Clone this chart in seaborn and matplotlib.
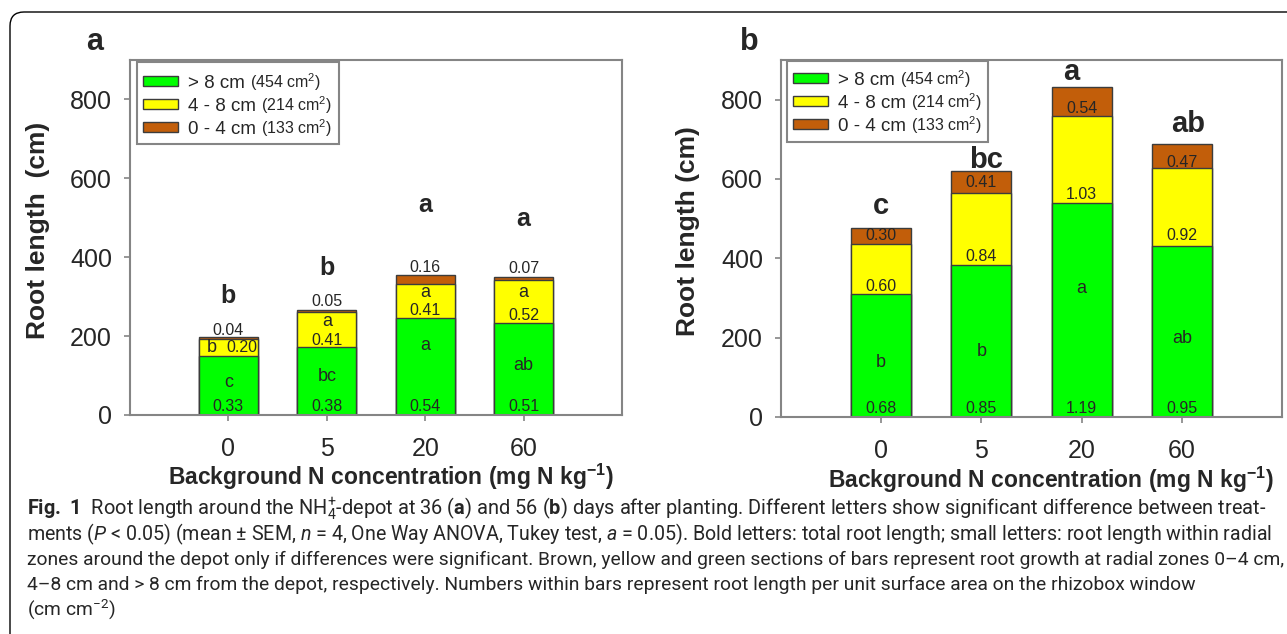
import pandas as pd
import matplotlib
matplotlib.use("Agg")
import matplotlib.pyplot as plt
import matplotlib.patches as mpatches
from matplotlib.transforms import IdentityTransform
import seaborn as sns

sns.set_style("ticks")
plt.rcParams["font.family"] = ["Liberation Sans", "DejaVu Sans"]
plt.rcParams["mathtext.fontset"] = "custom"
plt.rcParams["mathtext.rm"] = "Roboto"
plt.rcParams["mathtext.it"] = "Roboto:italic"
plt.rcParams["mathtext.bf"] = "Roboto:bold"

conc = ["0", "5", "20", "60"]
zones = ["> 8 cm", "4 - 8 cm", "0 - 4 cm"]
zone_areas = ["454", "214", "133"]

# panel a, 36 days after planting: root length (cm) per radial zone
a_green = [150, 172, 245, 232]
a_yellow = [43, 88, 88, 109]
a_brown = [5, 7, 21, 9]
a_dens_green = ["0.33", "0.38", "0.54", "0.51"]
a_dens_yellow = ["0.20", "0.41", "0.41", "0.52"]
a_dens_brown = ["0.04", "0.05", "0.16", "0.07"]
a_let_green = ["c", "bc", "a", "ab"]
a_let_yellow = ["b", "a", "a", "a"]
a_let_total = ["b", "b", "a", "a"]

# panel b, 56 days after planting
b_green = [310, 384, 540, 430]
b_yellow = [127, 180, 220, 197]
b_brown = [40, 55, 72, 62]
b_dens_green = ["0.68", "0.85", "1.19", "0.95"]
b_dens_yellow = ["0.60", "0.84", "1.03", "0.92"]
b_dens_brown = ["0.30", "0.41", "0.54", "0.47"]
b_let_green = ["b", "b", "a", "ab"]
b_let_total = ["c", "bc", "a", "ab"]

GREEN, YELLOW, BROWN = "#00ff00", "#ffff00", "#c25e0a"
EDGE = "#3c3c3c"
SPINE = "#858585"
LEG_FS = 13.5


def stacked_bars(ax, green, yellow, brown):
    df = pd.DataFrame({"conc": conc, "g": green, "y": yellow, "b": brown})
    df["gy"] = df["g"] + df["y"]
    df["tot"] = df["gy"] + df["b"]
    for col, c in [("tot", BROWN), ("gy", YELLOW), ("g", GREEN)]:
        sns.barplot(data=df, x="conc", y=col, color=c, saturation=1, width=0.6,
                    edgecolor=EDGE, linewidth=1, errorbar=None, ax=ax)
    ax.set_xlim(-1, 4)
    ax.set_ylim(0, 900)
    ax.set_yticks([0, 200, 400, 600, 800])
    for s in ax.spines.values():
        s.set_visible(True)
        s.set_color(SPINE)
        s.set_linewidth(1.5)
    ax.tick_params(axis="both", direction="out", length=4, width=1.2,
                   color=SPINE, labelsize=18)
    ax.tick_params(axis="y", pad=9)
    ax.tick_params(axis="x", pad=12)


def zone_legend(ax, anchor, frame):
    handles = [mpatches.Patch(facecolor=c, edgecolor=EDGE, linewidth=1)
               for c in (GREEN, YELLOW, BROWN)]
    leg = ax.legend(handles, zones, loc="upper left", bbox_to_anchor=anchor,
                    frameon=False, fontsize=LEG_FS, borderpad=0, borderaxespad=0,
                    handlelength=1.87, handleheight=0.45, handletextpad=0.53,
                    labelspacing=0.32)
    x0, y0, x1, y1 = frame
    ax.add_patch(mpatches.Rectangle((x0, y0), x1 - x0, y1 - y0, transform=ax.transAxes,
                                    facecolor="white", edgecolor=SPINE, linewidth=1.5,
                                    zorder=4, clip_on=False))
    return leg


fig = plt.figure(figsize=(12.87, 6.34), dpi=100)
ax_a = fig.add_axes([130 / 1287, 1 - 415 / 634, 492 / 1287, 355 / 634])
ax_b = fig.add_axes([781 / 1287, 1 - 417 / 634, 501 / 1287, 357 / 634])

# ---- panel a
stacked_bars(ax_a, a_green, a_yellow, a_brown)
fs_num, fs_let = 11.5, 13
for i in range(4):
    ax_a.text(i, 22, a_dens_green[i], ha="center", va="center", fontsize=fs_num)
    ax_a.text(i, [82, 97, 177, 125][i], a_let_green[i], ha="center", va="center", fontsize=fs_let)
    if i == 0:
        ax_a.text(i - 0.17, 170, a_let_yellow[i], ha="center", va="center", fontsize=fs_let)
        ax_a.text(i + 0.14, 170, a_dens_yellow[i], ha="center", va="center", fontsize=fs_num)
    else:
        ax_a.text(i, [0, 236, 310, 310][i], a_let_yellow[i], ha="center", va="center", fontsize=fs_let)
        ax_a.text(i, [0, 188, 266, 251][i], a_dens_yellow[i], ha="center", va="center", fontsize=fs_num)
    ax_a.text(i, [213, 287, 375, 371][i], a_dens_brown[i], ha="center", va="center", fontsize=fs_num)
    ax_a.text(i, [301, 373, 533, 496][i], a_let_total[i], ha="center", va="center",
              fontsize=18, fontweight="bold")
ax_a.set_xlabel(r"Background N concentration (mg N kg$^{\mathregular{-1}}$)",
                fontsize=16.5, fontweight="bold")
ax_a.xaxis.set_label_coords(0.53, -0.133)
ax_a.set_ylabel("Root length  (cm)", fontsize=19, fontweight="bold")
ax_a.yaxis.set_label_coords(-0.163, 0.52)
leg_a = zone_legend(ax_a, (0.026, 0.958), (0.0142, 0.7634, 0.4248, 0.9944))

# ---- panel b
stacked_bars(ax_b, b_green, b_yellow, b_brown)
for i in range(4):
    ax_b.text(i, 22, b_dens_green[i], ha="center", va="center", fontsize=fs_num)
    ax_b.text(i, [137, 164, 324, 198][i], b_let_green[i], ha="center", va="center", fontsize=fs_let)
    ax_b.text(i, [330, 405, 561, 458][i], b_dens_yellow[i], ha="center", va="center", fontsize=fs_num)
    ax_b.text(i, [458, 590, 778, 641][i], b_dens_brown[i], ha="center", va="center", fontsize=fs_num)
    ax_b.text(i + [0, 0.05, -0.1, 0.06][i], [531, 648, 869, 739][i], b_let_total[i],
              ha="center", va="center", fontsize=21, fontweight="bold")
ax_b.set_xlabel(r"Background N concentration (mg N kg$^{\mathregular{-1}}$)",
                fontsize=16.5, fontweight="bold")
ax_b.xaxis.set_label_coords(0.539, -0.135)
ax_b.set_ylabel("Root length (cm)", fontsize=19, fontweight="bold")
ax_b.yaxis.set_label_coords(-0.162, 0.52)
leg_b = zone_legend(ax_b, (0.024, 0.966), (0.012, 0.770, 0.413, 0.997))

fig.text(95 / 1287, 1 - 42 / 634, "a", fontsize=22, fontweight="bold", ha="center", va="center")
fig.text(749 / 1287, 1 - 42 / 634, "b", fontsize=22, fontweight="bold", ha="center", va="center")

# ---- caption
caption = [
    r"$\mathbf{Fig.\ 1}$  Root length around the NH$_4^{+}$-depot at 36 ($\mathbf{a}$) and 56 ($\mathbf{b}$) "
    r"days after planting. Different letters show significant difference between treat-",
    r"ments ($P$ < 0.05) (mean ± SEM, $n$ = 4, One Way ANOVA, Tukey test, $a$ = 0.05). Bold letters: "
    r"total root length; small letters: root length within radial",
    "zones around the depot only if differences were significant. Brown, yellow and green sections "
    "of bars represent root growth at radial zones 0–4 cm,",
    "4–8 cm and > 8 cm from the depot, respectively. Numbers within bars represent root length "
    "per unit surface area on the rhizobox window",
    r"(cm cm$^{-2}$)",
]
cap_widths = [1235, 1243, 1251, 1164, None]
cap_texts = []
for k, line in enumerate(caption):
    cap_texts.append(fig.text(27 / 1287, 1 - (515 + 25 * k) / 634, line, fontsize=12,
                              family=["Roboto", "DejaVu Sans"], va="baseline", ha="left"))
fig.canvas.draw()
sizes = []
for t, target in zip(cap_texts, cap_widths):
    if target is not None:
        sizes.append(12 * target / t.get_window_extent().width)
        t.set_fontsize(sizes[-1])
cap_texts[-1].set_fontsize(sizes[-1])

# small area labels after each legend entry, on the same baseline
for leg in (leg_a, leg_b):
    for txt, area in zip(leg.get_texts(), zone_areas):
        bb = txt.get_window_extent()
        base_y = txt.get_transform().transform(txt.get_position())[1]
        fig.text(bb.x1 + 5, base_y, "(" + area + r" cm$^{\mathregular{2}}$)",
                 transform=IdentityTransform(), fontsize=11.5, va="baseline", ha="left")

frame = mpatches.FancyBboxPatch((10, -60), 1400, 682, boxstyle="round,pad=0,rounding_size=14",
                                transform=IdentityTransform(), facecolor="none",
                                edgecolor="black", linewidth=1)
fig.add_artist(frame)

fig.savefig("out.png", dpi=100)
